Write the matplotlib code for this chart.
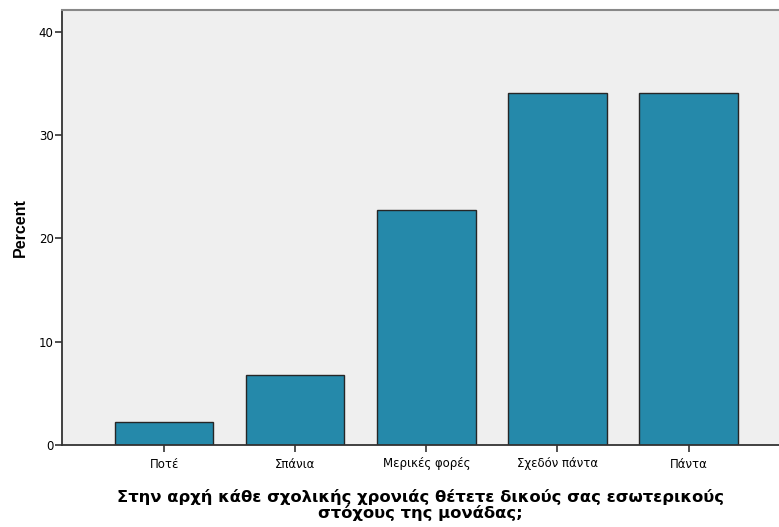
import matplotlib
matplotlib.use("Agg")
import matplotlib.pyplot as plt

# data
categories = ["Ποτέ", "Σπάνια", "Μερικές φορές", "Σχεδόν πάντα", "Πάντα"]
percent = [2.27, 6.82, 22.73, 34.09, 34.09]
yticks = [0, 10, 20, 30, 40]

plt.rcParams['font.family'] = ['DejaVu Sans']

fig = plt.figure(figsize=(7.79, 5.27), dpi=100)
ax = fig.add_axes([62 / 779, 82 / 527, 1 - 62 / 779, (445 - 10) / 527])
ax.set_facecolor("#efefef")

x = list(range(len(categories)))
ax.bar(x, percent, width=0.75, color="#2589aa", edgecolor="#262626", linewidth=1.0, zorder=2)

ax.set_xlim(-0.78, 4.69)
ax.set_ylim(0, 42.1)
ax.set_yticks(yticks)
ax.set_xticks(x)
ax.set_xticklabels(categories, fontsize=8.5)
ax.tick_params(axis="y", labelsize=8.5, length=5, width=1.2, color="#333333", pad=1)
ax.tick_params(axis="x", length=5, width=1.2, color="#333333", pad=4)

for s in ["left", "bottom"]:
    ax.spines[s].set_color("#333333")
    ax.spines[s].set_linewidth(1.3)
ax.spines["top"].set_color("#888888")
ax.spines["top"].set_linewidth(1.5)
ax.spines["right"].set_visible(False)

ax.set_ylabel("Percent", fontsize=11.5, fontweight="bold", labelpad=8,
              family=["Liberation Sans", "DejaVu Sans"])
ax.set_xlabel("Στην αρχή κάθε σχολικής χρονιάς θέτετε δικούς σας εσωτερικούς\nστόχους της μονάδας;",
              fontsize=11.8, fontweight="bold", labelpad=13, linespacing=1.05)

fig.savefig("out.png", dpi=100)
